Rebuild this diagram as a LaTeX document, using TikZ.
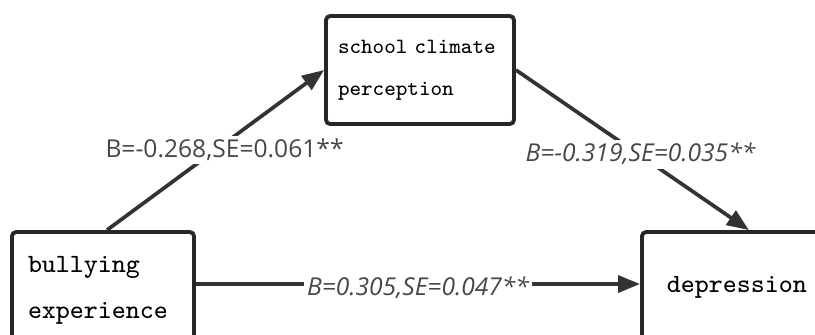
\documentclass[tikz,border=0pt]{standalone}
\usepackage{fontspec}
\newfontfamily\coeffont{Open Sans}
\usetikzlibrary{arrows.meta}
\definecolor{linegray}{HTML}{333333}
\definecolor{labelgray}{HTML}{474747}
\begin{document}
\begin{tikzpicture}[
  box/.style={draw=black!85, line width=1.1pt, rounded corners=1.2pt, fill=white},
  link/.style={draw=linegray, line width=1.05pt, -{Triangle[length=0.22cm, width=0.17cm]}},
  coef/.style={fill=white, text=labelgray, inner sep=1pt, font=\coeffont\fontsize{7}{8}\selectfont},
  coefit/.style={coef, font=\coeffont\itshape\fontsize{7}{8}\selectfont}
]
  \useasboundingbox (0,0) rectangle (8.15,3.34);
  % boxes
  \node (school) [box, align=left, text width=1.64cm, inner xsep=0.12cm, minimum height=1.08cm,
    font=\ttfamily\fontsize{6.2}{11.9}\selectfont] at (4.20,2.64) {school climate\\perception};
  \node (bully) [box, align=left, text width=1.5cm, inner xsep=0.16cm, minimum height=1.16cm,
    font=\ttfamily\fontsize{7.5}{13.1}\selectfont] at (1.03,0.44) {bullying\\experience};
  \node (depr) [box, anchor=base west, inner xsep=0.25cm, inner ysep=0.1cm, text height=0.5cm, text depth=0.6cm,
    font=\ttfamily\fontsize{7.5}{8}\selectfont] at (6.40,0.42) {depression};

  % paths
  \draw[link] ([xshift=0.04cm]bully.north) -- (school.west)
    node[coef, midway, xshift=0.09cm] {B=-0.268,SE=0.061**};
  \draw[link] (school.east) -- ([xshift=0.12cm]depr.north)
    node[coefit, midway, xshift=0.08cm, yshift=-0.04cm] {B=-0.319,SE=0.035**};
  \draw[link] ([yshift=0.06cm]bully.east) -- ([yshift=0.06cm]bully.east -| depr.west)
    node[coefit, midway, yshift=-0.04cm] {B=0.305,SE=0.047**};
\end{tikzpicture}
\end{document}
